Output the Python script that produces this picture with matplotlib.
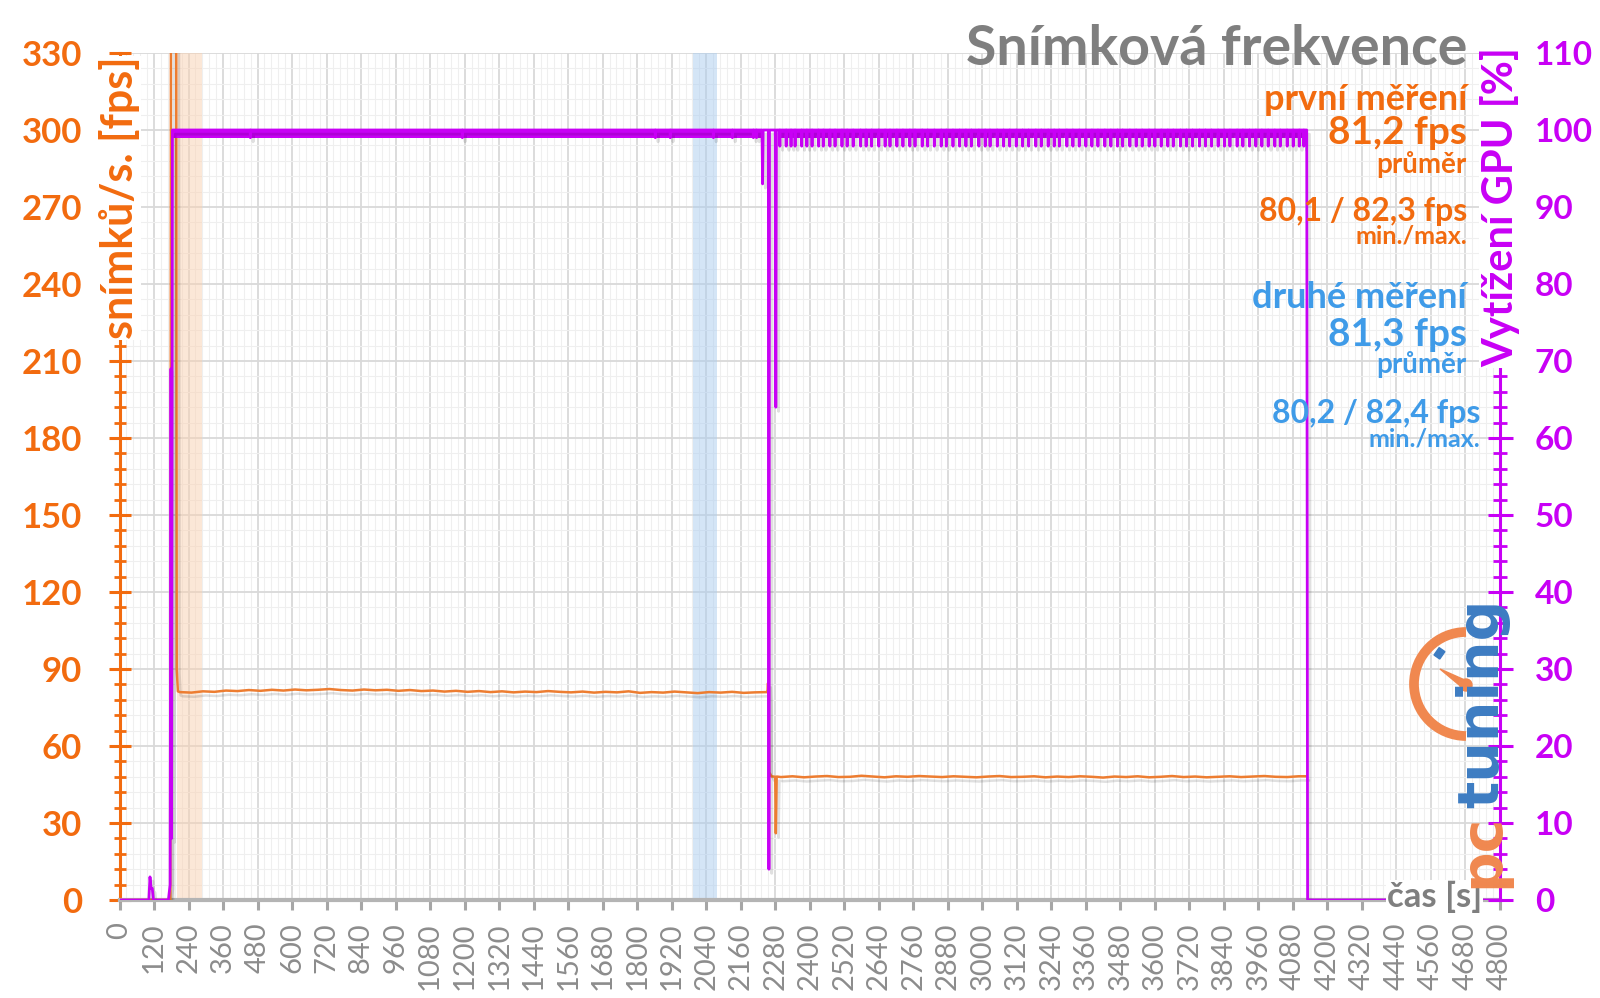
import numpy as np
import matplotlib
matplotlib.use('Agg')
import matplotlib.pyplot as plt
import matplotlib.patheffects as pe
from matplotlib.patches import Arc, Circle, Polygon, Rectangle
from matplotlib.ticker import MultipleLocator
from matplotlib.transforms import Affine2D

plt.rcParams['font.family'] = ['Lato', 'DejaVu Sans']

# --- data ------------------------------------------------------------------
# snímková frekvence (fps)
fps_start_t = [0, 177, 179, 197, 199, 203]
fps_start_v = [0, 0, 360, 360, 90, 81.3]
fps_seg1_t0, fps_seg1_dt = 210, 40
fps_seg1_v = [81.0, 80.8, 81.3, 81.1, 81.6, 81.4, 81.8, 81.5, 81.9, 81.6, 82.0, 81.7,
              81.9, 82.2, 81.8, 81.6, 82.0, 81.7, 81.9, 81.5, 81.8, 81.4, 81.6, 81.2,
              81.5, 81.1, 81.4, 81.0, 81.3, 80.9, 81.2, 81.0, 81.4, 81.1, 80.9, 81.2,
              80.8, 81.1, 80.9, 81.3, 80.7, 81.0, 80.8, 81.2, 80.9, 80.6, 81.0, 80.8,
              81.1, 80.7, 80.9, 81.0]
fps_trans_t = [2253, 2255, 2257, 2259, 2262, 2266, 2280, 2282, 2285]
fps_trans_v = [81.0, 84.5, 78.0, 49.5, 49.2, 48.2, 48.0, 26.0, 48.1]
fps_seg2_t0, fps_seg2_dt = 2300, 40
fps_seg2_v = [47.9, 48.2, 47.8, 48.1, 48.3, 47.9, 48.0, 48.4, 48.1, 47.8, 48.2, 48.0,
              48.3, 48.1, 47.9, 48.2, 48.0, 47.8, 48.1, 48.3, 47.9, 48.0, 48.2, 47.8,
              48.1, 47.9, 48.2, 48.0, 47.7, 48.1, 47.9, 48.2, 47.8, 48.0, 48.3, 47.9,
              48.1, 47.8, 48.0, 48.2, 47.9, 48.1, 48.3, 48.0, 47.9, 48.2]
fps_end_t = [4126]
fps_end_v = [48.2]

# vytížení GPU (%)
gpu_t = [0, 102, 106, 110, 114, 118, 170, 176, 179, 181, 184,
         2232, 2234, 2236, 2238, 2256, 2258, 2260, 2280, 2282, 2284,
         2290, 4128, 4131, 4800]
gpu_u = [0, 0, 3, 1.5, 1.5, 0, 0, 2, 69, 8, 100,
         100, 100, 93, 100, 100, 4, 100, 100, 64, 100,
         100, 100, 0, 0]
gpu_band = [(184, 2232), (2290, 4127)]   # 99-100 % chvění
gpu_band_low = 98.9
gpu_dips1 = [455, 1192, 1863, 1915, 2065, 2131, 2204, 2215]
gpu_dips1_val = 99.0
gpu_dips2 = [2296, 2318, 2335, 2349, 2372, 2390, 2408, 2431, 2447, 2470, 2488, 2512,
             2530, 2551, 2577, 2596, 2615, 2640, 2662, 2679, 2703, 2724, 2748, 2766,
             2791, 2810, 2833, 2857, 2875, 2898, 2921, 2943, 2962, 2988, 3010, 3027,
             3052, 3074, 3095, 3118, 3140, 3161, 3186, 3205, 3229, 3250, 3268, 3294,
             3315, 3337, 3360, 3381, 3402, 3426, 3447, 3470, 3488, 3513, 3535, 3556,
             3580, 3600, 3622, 3645, 3664, 3689, 3710, 3731, 3755, 3776, 3797, 3820,
             3842, 3861, 3886, 3906, 3929, 3951, 3972, 3994, 4017, 4036, 4060, 4081,
             4102, 4118]
gpu_dips2_val = 97.9

span_first = (200, 288)
span_second = (1995, 2078)

x_ticks = list(range(0, 4801, 120))

ORANGE = '#F26B0F'
LINE_OR = '#ED7D31'
PURPLE = '#C800F5'
BLUE = '#3F9BE8'
GRAY = '#7F7F7F'

W, H = 1600, 998


def fps_series():
    t1 = fps_seg1_t0 + fps_seg1_dt * np.arange(len(fps_seg1_v))
    t2 = fps_seg2_t0 + fps_seg2_dt * np.arange(len(fps_seg2_v))
    t = np.concatenate([fps_start_t, t1, fps_trans_t, t2, fps_end_t])
    v = np.concatenate([fps_start_v, fps_seg1_v, fps_trans_v, fps_seg2_v, fps_end_v])
    return t, v


def gpu_series():
    t = list(gpu_t)
    u = list(gpu_u)
    for dips, val in ((gpu_dips1, gpu_dips1_val), (gpu_dips2, gpu_dips2_val)):
        for d in dips:
            t += [d - 1, d, d + 1]
            u += [100, val, 100]
    order = np.argsort(t, kind='stable')
    return np.array(t)[order], np.array(u)[order]


fig = plt.figure(figsize=(W / 100, H / 100), dpi=100)
PX = Affine2D().scale(1 / 100) + fig.dpi_scale_trans   # pixel coords, origin bottom-left


def py(y):
    return H - y


ax = fig.add_axes([119.5 / W, 1 - 900 / H, (1500 - 119.5) / W, (900 - 53) / H])
ax.set_xlim(0, 4800)
ax.set_ylim(0, 330)
ax.set_axisbelow(True)

ax.axvspan(*span_first, color='#F9D1B1', alpha=0.5, lw=0, zorder=0.6)
ax.axvspan(*span_second, color='#ABCDEF', alpha=0.5, lw=0, zorder=0.6)

shadow = [pe.SimpleLineShadow(offset=(2, -3), shadow_color='k', alpha=0.12), pe.Normal()]
ft, fv = fps_series()
ax.plot(ft, fv, color=LINE_OR, lw=1.8, zorder=3, path_effects=shadow)

ax.set_xticks(x_ticks)
ax.set_xticklabels([str(v) for v in x_ticks], rotation=90, fontsize=21, color='#8C8C8C')
ax.xaxis.set_minor_locator(MultipleLocator(24))
ax.yaxis.set_major_locator(MultipleLocator(30))
ax.yaxis.set_minor_locator(MultipleLocator(6))
ax.tick_params(axis='x', which='major', direction='out', length=7, width=2.2,
               color='#A6A6A6', pad=9)
ax.tick_params(axis='x', which='minor', length=0)
ax.tick_params(axis='y', which='major', direction='inout', length=16, width=2.2,
               color=ORANGE, labelcolor=ORANGE, labelsize=25, pad=19)
ax.tick_params(axis='y', which='minor', direction='inout', length=8, width=2.0,
               color=ORANGE)
for lab in ax.get_yticklabels():
    lab.set_fontweight('bold')
ax.grid(which='major', color='#D9D9D9', lw=1.3)
ax.grid(which='minor', color='#EFEFEF', lw=0.8)
ax.spines['top'].set_visible(False)
ax.spines['right'].set_visible(False)
ax.spines['left'].set_color(ORANGE)
ax.spines['left'].set_linewidth(2.2)
ax.spines['bottom'].set_color('#B4B4B4')
ax.spines['bottom'].set_linewidth(3)

ax2 = ax.twinx()
ax2.set_ylim(0, 110)
gt, gu = gpu_series()
for a, b in gpu_band:
    ax2.fill_between([a, b], gpu_band_low, 100, color=PURPLE, lw=0, zorder=2.9)
ax2.plot(gt, gu, color=PURPLE, lw=2.0, zorder=3, path_effects=shadow)
ax2.yaxis.set_major_locator(MultipleLocator(10))
ax2.yaxis.set_minor_locator(MultipleLocator(2))
ax2.tick_params(axis='y', which='major', direction='inout', length=18, width=2.2,
                color=PURPLE, labelcolor=PURPLE, labelsize=24, pad=16)
ax2.tick_params(axis='y', which='minor', direction='inout', length=10, width=2.0,
                color=PURPLE)
for lab in ax2.get_yticklabels():
    lab.set_fontweight('bold')
for s in ('top', 'left', 'bottom'):
    ax2.spines[s].set_visible(False)
ax2.spines['right'].set_color(PURPLE)
ax2.spines['right'].set_linewidth(2.2)

# popisek osy x (bílé pozadí zakrývá konec čáry)
ax2.text(1482, py(897), 'čas [s]', transform=PX, ha='right', va='center',
         fontsize=25, fontweight='bold', color=GRAY, clip_on=False, zorder=3.5,
         bbox=dict(fc='white', ec='none', pad=0.5))

# logo pctuning
logo_or = '#F0884F'
logo_bl = '#3D7CC2'
logo_kw = dict(transform=PX, clip_on=False, zorder=4)
ax2.add_patch(Arc((1466, py(684)), 104, 104, theta1=90, theta2=270, lw=7,
                  color=logo_or, **logo_kw))
ax2.add_patch(Polygon([(1440, py(669)), (1467, py(681)), (1464, py(689))],
                      closed=True, color=logo_or, **logo_kw))
ax2.add_patch(Circle((1466, py(685)), 6, color=logo_or, **logo_kw))
ax2.add_patch(Rectangle((1434, py(655)), 7, 9, angle=-35, color=logo_bl, **logo_kw))
ax2.text(1498, py(888), 'pc', rotation=90, rotation_mode='anchor',
         ha='left', va='baseline', fontsize=41, fontweight='bold', color=logo_or,
         family='DejaVu Sans', **logo_kw)
ax2.text(1498, py(808), 'tuning', rotation=90, rotation_mode='anchor',
         ha='left', va='baseline', fontsize=41, fontweight='bold', color=logo_bl,
         family='DejaVu Sans', **logo_kw)

# titulky a popisky
fig.text(1467, py(65), 'Snímková frekvence', transform=PX, ha='right', va='baseline',
         fontsize=40, fontweight='bold', color=GRAY)
fig.text(120, py(198), 'snímků/s. [fps]', transform=PX, ha='center', va='center',
         rotation=90, fontsize=31, fontweight='bold', color=ORANGE,
         bbox=dict(fc='white', ec='none', pad=0.5))
fig.text(1500, py(207), 'Vytížení GPU [%]', transform=PX, ha='center', va='center',
         rotation=90, fontsize=30, fontweight='bold', color=PURPLE,
         bbox=dict(fc='white', ec='none', pad=0.5))

notes = [
    ('první měření', 1467, 100, 26, ORANGE),
    ('81,2 fps', 1467, 133, 28, ORANGE),
    ('průměr', 1467, 164, 20, ORANGE),
    ('80,1 / 82,3 fps', 1467, 211, 23, ORANGE),
    ('min./max.', 1467, 236, 18, ORANGE),
    ('druhé měření', 1467, 298, 26, BLUE),
    ('81,3 fps', 1467, 335, 28, BLUE),
    ('průměr', 1467, 364, 20, BLUE),
    ('80,2 / 82,4 fps', 1480, 413, 23, BLUE),
    ('min./max.', 1480, 439, 18, BLUE),
]
for txt, x, y, size, col in notes:
    fig.text(x, py(y), txt, transform=PX, ha='right', va='center', fontsize=size,
             fontweight='bold', color=col)

fig.savefig('out.png', dpi=100)
